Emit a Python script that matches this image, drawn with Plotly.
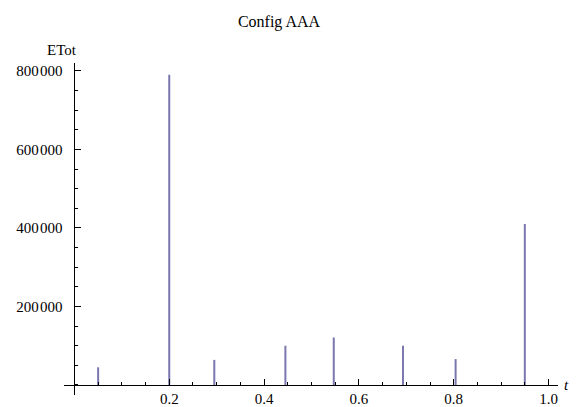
import plotly.graph_objects as go

# Data
t_vals = [0.05, 0.2, 0.295, 0.445, 0.547, 0.693, 0.804, 0.95]
etot_vals = [45000, 790000, 64000, 100000, 121000, 100000, 66000, 410000]

x_ticks = [0.2, 0.4, 0.6, 0.8, 1.0]
x_ticktext = ["0.2", "0.4", "0.6", "0.8", "1.0"]
y_ticks = [200000, 400000, 600000, 800000]
y_ticktext = ["200\u200a000", "400\u200a000", "600\u200a000", "800\u200a000"]

xs, ys = [], []
for t, v in zip(t_vals, etot_vals):
    xs += [t, t, None]
    ys += [0, v, None]

FONT = "Liberation Serif, Times New Roman, DejaVu Serif, serif"
x_range = [-0.022, 1.02]
y_range = [-25500, 820000]

fig = go.Figure()
fig.add_trace(go.Scatter(x=xs, y=ys, mode="lines",
                         line=dict(color="#7a77b0", width=2),
                         hoverinfo="skip", showlegend=False))

xpos = (0 - y_range[0]) / (y_range[1] - y_range[0])
ypos = (0 - x_range[0]) / (x_range[1] - x_range[0])

# the page body adds an 8px offset; the figure is sized so it fits the window
W, H = 569, 399
fig.update_layout(
    width=W, height=H,
    margin=dict(l=56, r=19, t=55, b=12, autoexpand=False),
    paper_bgcolor="white", plot_bgcolor="white",
    font=dict(family=FONT, size=15, color="black"),
    title=dict(text="Config AAA", x=271 / W, xanchor="center", y=1 - 13 / H, yanchor="middle",
               font=dict(family=FONT, size=16, color="black")),
    xaxis=dict(range=x_range, anchor="free", position=xpos, automargin=False,
               showgrid=False, zeroline=False, showline=True, linecolor="black", linewidth=1,
               tickvals=x_ticks, ticktext=x_ticktext, ticks="inside", ticklen=6,
               tickcolor="black", tickwidth=1, ticklabelstandoff=0,
               tickfont=dict(family=FONT, size=15, color="black"),
               minor=dict(dtick=0.05, tick0=0, ticks="inside", ticklen=3, tickcolor="black")),
    yaxis=dict(range=y_range, anchor="free", position=ypos, automargin=False,
               showgrid=False, zeroline=False, showline=True, linecolor="black", linewidth=1,
               tickvals=y_ticks, ticktext=y_ticktext, ticks="inside", ticklen=6,
               tickcolor="black", tickwidth=1, ticklabelstandoff=9,
               tickfont=dict(family=FONT, size=15, color="black"),
               minor=dict(dtick=50000, tick0=0, ticks="inside", ticklen=3, tickcolor="black")),
    annotations=[
        dict(text="ETot", xref="paper", yref="paper", x=ypos, y=1.0, xanchor="right",
             yanchor="middle", yshift=13, xshift=5, showarrow=False,
             font=dict(family=FONT, size=15, color="black")),
        dict(text="<i>t</i>", xref="paper", yref="paper", x=1.0, y=xpos, xanchor="center",
             yanchor="middle", xshift=8, showarrow=False,
             font=dict(family=FONT, size=15, color="black")),
    ],
)

fig.write_html("out.html")
